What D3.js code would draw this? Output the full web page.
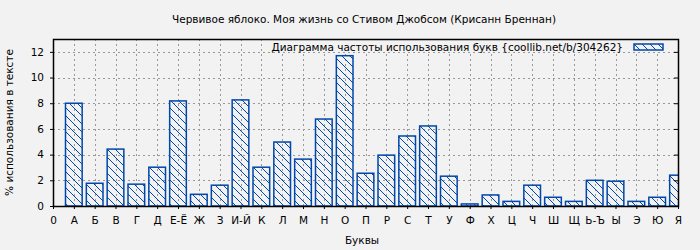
<!DOCTYPE html>
<html>
  <head>
    <meta charset="utf-8">
    <title>Частота букв</title>
    <script src="https://cdnjs.cloudflare.com/ajax/libs/d3/7.8.5/d3.min.js"></script>
    <style>
      body { margin: 0; background: #f2f2f2; overflow: hidden; }
      svg { display: block; }
      text { font-family: "DejaVu Sans", sans-serif; font-size: 10.5px; fill: #000; }
    </style>
  </head>
  <body>
    <script>

      var outerWidth = 700;
      var outerHeight = 250;
      var margin = { left: 53, top: 39, right: 22, bottom: 44 };

      var title = "Червивое яблоко. Моя жизнь со Стивом Джобсом (Крисанн Бреннан)";
      var legendLabel = "Диаграмма частоты использования букв {coollib.net/b/304262}";

      // letters, position 1..30 on the x axis
      var letters = ["А","Б","В","Г","Д","Е-Ё","Ж","З","И-Й","К","Л","М","Н","О","П",
                     "Р","С","Т","У","Ф","Х","Ц","Ч","Ш","Щ","Ь-Ъ","Ы","Э","Ю","Я"];
      // % of use in text
      var percents = [8.0, 1.77, 4.43, 1.70, 3.02, 8.18, 0.91, 1.62, 8.26, 3.02, 4.98, 3.65, 6.77, 11.7, 2.55,
                      3.96, 5.45, 6.23, 2.32, 0.16, 0.86, 0.36, 1.62, 0.68, 0.36, 2.0, 1.93, 0.36, 0.68, 2.40];
      var yTicks = [0, 2, 4, 6, 8, 10, 12];

      var blue = "#0047ab";
      var bg = "#f2f2f2";

      var innerWidth  = outerWidth  - margin.left - margin.right;
      var innerHeight = outerHeight - margin.top  - margin.bottom;

      var data = letters.map(function (l, i) { return { letter: l, pos: i + 1, value: percents[i] }; });

      var svg = d3.select("body").append("svg")
        .attr("width", outerWidth)
        .attr("height", outerHeight);

      var defs = svg.append("defs");
      var pat = defs.append("pattern")
        .attr("id", "hatch")
        .attr("patternUnits", "userSpaceOnUse")
        .attr("width", 8).attr("height", 8);
      pat.append("path")
        .attr("d", "M-2,-2 L10,10 M-2,6 L2,10 M6,-2 L10,2")
        .attr("stroke", blue).attr("stroke-width", 1).attr("fill", "none");

      defs.append("clipPath").attr("id", "plotclip")
        .append("rect").attr("width", innerWidth).attr("height", innerHeight);

      var g = svg.append("g")
        .attr("transform", "translate(" + margin.left + "," + margin.top + ")");

      var xScale = d3.scaleLinear().domain([0, 30]).range([0, innerWidth]);
      var yScale = d3.scaleLinear().domain([0, 13]).range([innerHeight, 0]);
      var barW = xScale(0.8) - xScale(0);

      // grid
      var grid = g.append("g").attr("stroke", "#999").attr("stroke-dasharray", "2,3").attr("stroke-width", 1);
      grid.selectAll("line.v").data(data.slice(0, 29)).enter().append("line")
        .attr("x1", function (d) { return Math.round(xScale(d.pos)) + 0.5; })
        .attr("x2", function (d) { return Math.round(xScale(d.pos)) + 0.5; })
        .attr("y1", 0).attr("y2", innerHeight);
      grid.selectAll("line.h").data(yTicks.slice(1)).enter().append("line")
        .attr("y1", function (d) { return Math.round(yScale(d)) + 0.5; })
        .attr("y2", function (d) { return Math.round(yScale(d)) + 0.5; })
        .attr("x1", 0).attr("x2", innerWidth);

      // legend background hides grid
      g.append("rect")
        .attr("x", 218).attr("y", 1)
        .attr("width", 397).attr("height", 12)
        .attr("fill", bg);

      // bars
      g.append("g").attr("clip-path", "url(#plotclip)")
        .selectAll("rect").data(data).enter().append("rect")
        .attr("x", function (d) { return xScale(d.pos) - barW / 2; })
        .attr("y", function (d) { return yScale(d.value); })
        .attr("width", barW)
        .attr("height", function (d) { return innerHeight - yScale(d.value); })
        .attr("fill", "url(#hatch)")
        .attr("stroke", blue)
        .attr("stroke-width", 1.5);

      // axes
      var xAxis = d3.axisBottom(xScale)
        .tickValues(d3.range(0, 31))
        .tickFormat(function (d) { return d === 0 ? "0" : letters[d - 1]; })
        .tickSize(3).tickPadding(8);
      var xAxisG = g.append("g")
        .attr("transform", "translate(0," + innerHeight + ")")
        .call(xAxis);

      var yAxisG = g.append("g")
        .call(d3.axisLeft(yScale).tickValues(yTicks).tickSize(3).tickPadding(6));

      g.append("g")
        .attr("transform", "translate(" + innerWidth + ",0)")
        .call(d3.axisLeft(yScale).tickValues(yTicks).tickSize(4).tickFormat(""));

      [xAxisG, yAxisG].forEach(function (a) {
        a.attr("font-size", null).attr("font-family", null);
        a.selectAll("text").attr("fill", "#000");
      });
      g.selectAll(".tick line").attr("stroke", "#000");
      g.selectAll(".domain").remove();

      // frame
      g.append("rect")
        .attr("x", 0.5).attr("y", 0.5)
        .attr("width", innerWidth).attr("height", innerHeight)
        .attr("fill", "none").attr("stroke", "#000").attr("stroke-width", 1.5);

      // legend
      g.append("text")
        .attr("x", 570).attr("y", 12)
        .attr("text-anchor", "end")
        .text(legendLabel);
      g.append("rect")
        .attr("x", 581).attr("y", 5)
        .attr("width", 29).attr("height", 6)
        .attr("fill", "url(#hatch)")
        .attr("stroke", blue).attr("stroke-width", 1.5);

      // titles
      svg.append("text")
        .attr("x", 364).attr("y", 23)
        .attr("text-anchor", "middle")
        .text(title);

      svg.append("text")
        .attr("x", 362).attr("y", 244)
        .attr("text-anchor", "middle")
        .text("Буквы");

      svg.append("text")
        .attr("transform", "translate(13," + (margin.top + innerHeight / 2) + ") rotate(-90)")
        .attr("text-anchor", "middle")
        .text("% использования в тексте");

    </script>
  </body>
</html>
